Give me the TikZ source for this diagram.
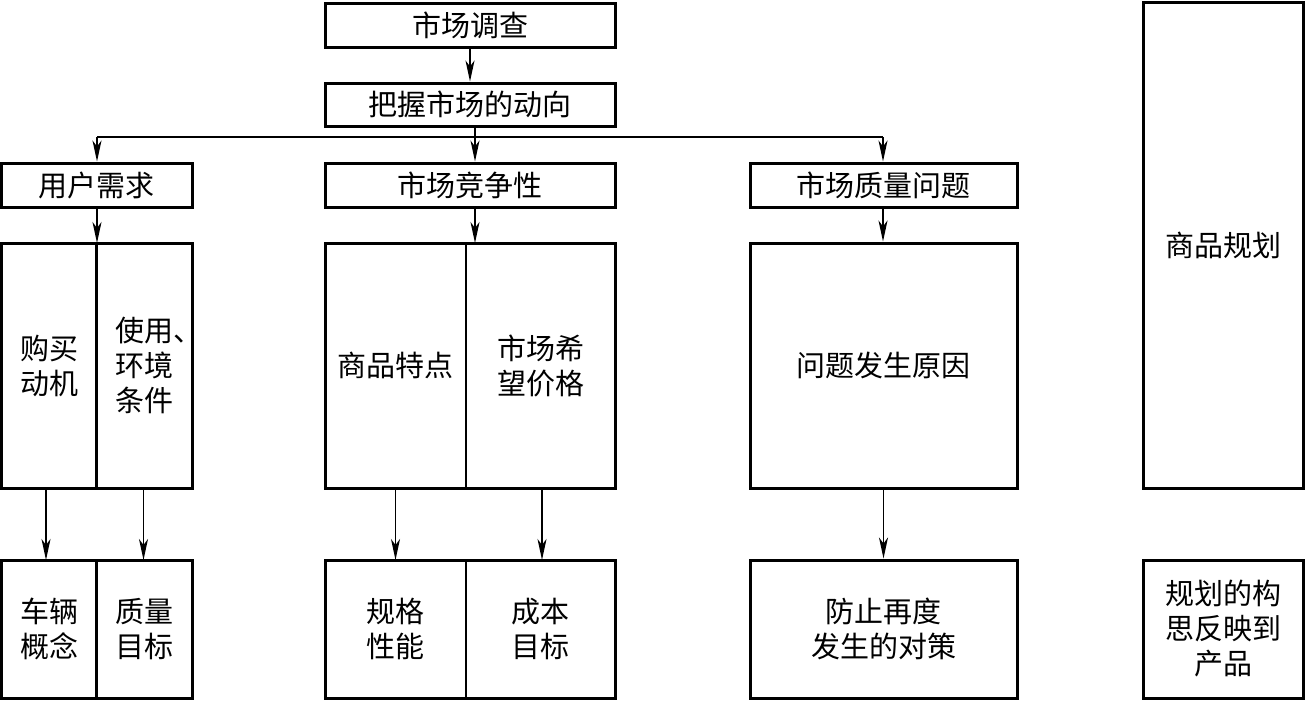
\documentclass[tikz,border=0pt]{standalone}
\usepackage{fontspec}
\newfontfamily\cjk{Noto Sans CJK SC}
\usetikzlibrary{arrows.meta}
\begin{document}
\begin{tikzpicture}[x=1pt,y=-1pt,
  box/.style={draw,line width=3pt,inner sep=0pt,align=center,
    font=\cjk\fontsize{29}{35}\selectfont},
  half/.style={draw,line width=2.2pt,inner sep=0pt,outer sep=0pt,align=center,
    font=\cjk\fontsize{29}{35}\selectfont},
  frame/.style={line width=3pt},
  conn/.style={line width=1.5pt,-{Stealth[length=21pt,width=9pt,inset=6pt]}},
  link/.style={line width=1.5pt}]
\useasboundingbox (0,0) rectangle (1306,704);
% top chain
\node[box,minimum width=290pt,minimum height=44pt] (survey) at (470,25) {市场调查};
\node[box,minimum width=290pt,minimum height=43pt] (trend) at (470,104.5) {把握市场的动向};
% second row
\node[box,minimum width=191pt,minimum height=44pt] (user) at (96.5,185) {用户需求};
\node[box,minimum width=290pt,minimum height=44pt] (comp) at (470,185) {市场竞争性};
\node[box,minimum width=267pt,minimum height=44pt] (qual) at (883.5,185) {市场质量问题};
% middle row
\node[half,minimum width=95pt,minimum height=245pt] (motive) at (49,365.5) {购买\\动机};
\node[half,minimum width=96pt,minimum height=245pt] (env) at (144.5,365.5) {使用\rlap{、}\\环境\\条件};
\node[half,minimum width=141pt,minimum height=245pt] (feat) at (395.5,365.5) {商品特点};
\node[half,minimum width=149pt,minimum height=245pt] (price) at (540.5,365.5) {市场希\\望价格};
\node[box,minimum width=267pt,minimum height=245pt] (cause) at (883.5,365.5) {问题发生原因};
\node[box,minimum width=160pt,minimum height=486pt] (plan) at (1223,245) {商品规划};
% bottom row
\node[half,minimum width=95pt,minimum height=138pt] (concept) at (49,629) {车辆\\概念};
\node[half,minimum width=96pt,minimum height=138pt] (qgoal) at (144.5,629) {质量\\目标};
\node[half,minimum width=141pt,minimum height=138pt] (spec) at (395.5,629) {规格\\性能};
\node[half,minimum width=149pt,minimum height=138pt] (cost) at (540.5,629) {成本\\目标};
\node[box,minimum width=267pt,minimum height=138pt] (measure) at (883.5,629) {防止再度\\发生的对策};
\node[box,minimum width=160pt,minimum height=138pt] (reflect) at (1223,629) {规划的构\\思反映到\\产品};
% outer frames of split boxes
\draw[frame] (motive.north west) rectangle (env.south east);
\draw[frame] (feat.north west) rectangle (price.south east);
\draw[frame] (concept.north west) rectangle (qgoal.south east);
\draw[frame] (spec.north west) rectangle (cost.south east);
% connectors
\draw[conn] (survey) -- (trend);
\coordinate (bus) at (475,137);
\coordinate (busL) at (97,137);
\coordinate (busR) at (883,137);
\draw[link] (trend.south -| bus) -- (bus);
\draw[link] (busL) -- (busR);
\draw[conn] (busL) -- (busL |- user.north);
\draw[conn] (bus) -- (bus |- comp.north);
\draw[conn] (busR) -- (busR |- qual.north);
\draw[conn] (user.south -| busL) -- (busL |- motive.north);
\draw[conn] (comp.south -| bus) -- (bus |- feat.north);
\draw[conn] (qual.south -| busR) -- (busR |- cause.north);
\draw[conn] ([xshift=-3pt]motive.south) -- ([xshift=-3pt]concept.north);
\draw[conn] ([xshift=-1pt]env.south) -- ([xshift=-1pt]qgoal.north);
\draw[conn] (feat.south) -- (spec.north);
\draw[conn] ([xshift=1.5pt]price.south) -- ([xshift=1.5pt]cost.north);
\draw[conn] (cause) -- (measure);
\end{tikzpicture}
\end{document}
